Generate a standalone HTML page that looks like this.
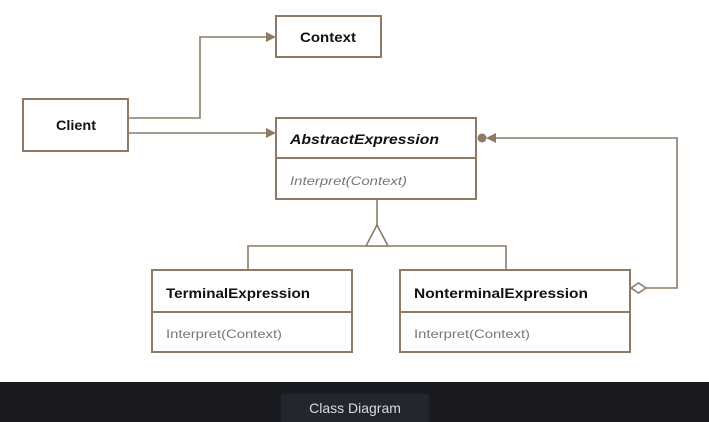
<!DOCTYPE html>
<html><head><style>
body{margin:0;width:709px;height:422px;background:#fff;overflow:hidden;font-family:"Liberation Sans",sans-serif}
</style></head><body>
<svg width="709" height="422" style="position:absolute;left:0;top:0">
<g fill="#fff" stroke="#8e7b66" stroke-width="2">
<rect x="276" y="16" width="105" height="41"/>
<rect x="23" y="99" width="105" height="52"/>
<rect x="276" y="118" width="200" height="81"/>
<line x1="276" y1="158" x2="476" y2="158"/>
<rect x="152" y="270" width="200" height="82"/>
<line x1="152" y1="312" x2="352" y2="312"/>
<rect x="400" y="270" width="230" height="82"/>
<line x1="400" y1="312" x2="630" y2="312"/>
</g>
<g fill="none" stroke="#8e7b66" stroke-width="1.6">
<polyline points="128,118 200,118 200,37 268,37"/>
<line x1="128" y1="133" x2="268" y2="133"/>
<line x1="377" y1="199" x2="377" y2="226"/>
<polyline points="248,270 248,246 506,246 506,270"/>
<polyline points="646,288 677,288 677,138 494,138"/>
</g>
<g fill="#8e7b66">
<polygon points="276,37 266,32 266,42"/>
<polygon points="276,133 266,128 266,138"/>
<polygon points="486,138 496,133 496,143"/>
<circle cx="482" cy="138" r="4.5"/>
</g>
<polygon points="377,225 366,246 388,246" fill="#fff" stroke="#8e7b66" stroke-width="1.6"/>
<polygon points="631,288 638.5,283 646,288 638.5,293" fill="#fff" stroke="#8e7b66" stroke-width="1.6"/>
<g font-family="Liberation Sans,sans-serif" font-size="13.5" font-weight="bold" fill="#111" lengthAdjust="spacingAndGlyphs">
<text x="300" y="42" textLength="56" lengthAdjust="spacingAndGlyphs">Context</text>
<text x="56" y="130" textLength="40" lengthAdjust="spacingAndGlyphs">Client</text>
<text x="290" y="144" font-style="italic" textLength="149" lengthAdjust="spacingAndGlyphs">AbstractExpression</text>
<text x="166" y="298" textLength="144" lengthAdjust="spacingAndGlyphs">TerminalExpression</text>
<text x="414" y="298" textLength="174" lengthAdjust="spacingAndGlyphs">NonterminalExpression</text>
</g>
<g font-family="Liberation Sans,sans-serif" font-size="12" fill="#777">
<text x="290" y="185" font-style="italic" textLength="117" lengthAdjust="spacingAndGlyphs">Interpret(Context)</text>
<text x="166" y="338" textLength="116" lengthAdjust="spacingAndGlyphs">Interpret(Context)</text>
<text x="414" y="338" textLength="116" lengthAdjust="spacingAndGlyphs">Interpret(Context)</text>
</g>
<rect x="0" y="382" width="709" height="40" fill="#1a1b21"/>
<rect x="281" y="394" width="148" height="30" rx="3" fill="#24262e"/>
<text x="355" y="413" text-anchor="middle" font-family="Liberation Sans,sans-serif" font-size="14" fill="#d8dae0">Class Diagram</text>
</svg>
</body></html>
